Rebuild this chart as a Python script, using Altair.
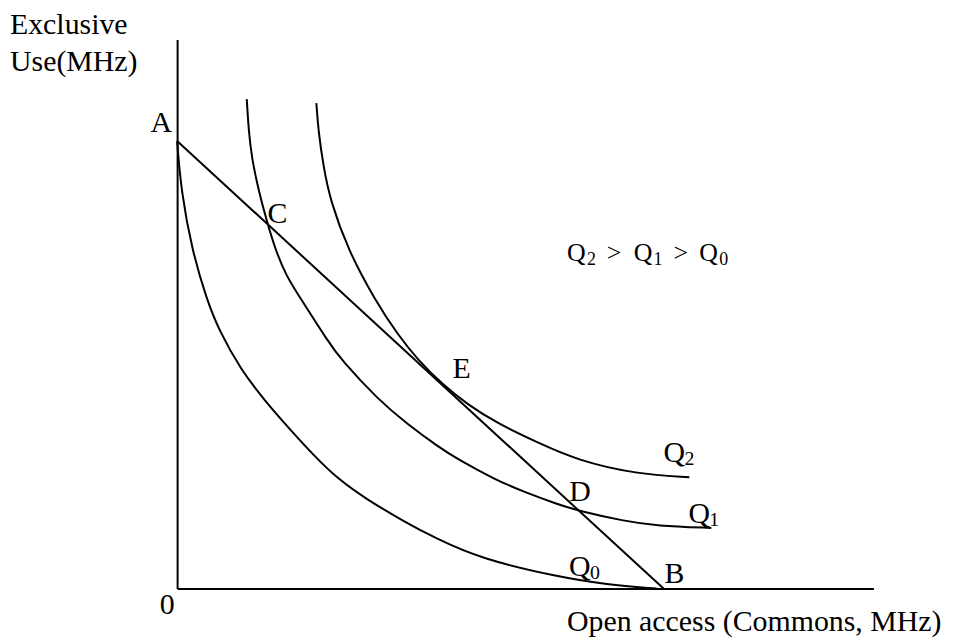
import altair as alt
import pandas as pd

# Isoquant curves (x = Open access MHz units, y = Exclusive use units)
q0_x = [0, 4, 15, 30, 42, 64, 89, 110, 139, 162, 190, 229, 259, 305, 382, 432, 482]
q0_y = [450, 400, 340, 290, 260, 220, 188, 164, 132, 110, 90, 67, 51, 30, 12, 4, 0]

q1_x = [70, 72, 75, 82, 90, 99, 110, 122, 152, 165, 202, 232, 262, 282, 319, 349, 382, 404, 449, 482, 537]
q1_y = [492, 460, 433, 400, 370, 340, 314, 295, 248, 230, 190, 165, 143, 130, 110, 97, 85, 78, 68, 63, 61]

q2_x = [140, 142, 147, 154, 172, 199, 222, 242, 267, 292, 322, 362, 402, 462, 515]
q2_y = [488, 460, 425, 390, 340, 290, 255, 230, 205, 185, 166, 147, 129, 115, 112]

# Budget line A -> B
ab_x = [0, 489]
ab_y = [450, 0]

X_MAX, Y_MAX = 700, 552

rows = []
for name, xs_, ys_ in [("Q0", q0_x, q0_y), ("Q1", q1_x, q1_y), ("Q2", q2_x, q2_y)]:
    for i, (a, b) in enumerate(zip(xs_, ys_)):
        rows.append({"curve": name, "order": i, "x": a, "y": b})
curves = pd.DataFrame(rows)
line_ab = pd.DataFrame({"x": ab_x, "y": ab_y, "order": [0, 1]})

FONT = "Liberation Serif"

# Annotation texts and anchors (data units, alphabetic baseline)
center_labels = ["A", "C", "E", "D", "B", "0"]
center_x = [-16, 101, 286, 405, 500, -10]
center_y = [459, 368, 212, 88, 6, -26]

left_big = ["Exclusive", "Use(MHz)", "Open access (Commons, MHz)", "Q", "Q", "Q"]
left_big_x = [-168, -168, 392, 394, 514, 489]
left_big_y = [558, 520, -43, 13, 66, 127]

left_sub = ["0", "1", "2"]
left_sub_x = [415, 535, 510]
left_sub_y = [10, 63, 124]

rel_big = ["Q", ">", "Q", ">", "Q"]
rel_big_x = [392, 432, 459, 499, 525]
rel_big_y = [329, 329, 329, 329, 329]

rel_sub = ["2", "1", "0"]
rel_sub_x = [412, 479, 545]
rel_sub_y = [325, 325, 325]

xs = alt.Scale(domain=[0, X_MAX], nice=False, zero=False)
ys = alt.Scale(domain=[0, Y_MAX], nice=False, zero=False)
ax = alt.Axis(domain=True, labels=False, ticks=False, grid=False, title=None,
              domainColor="black", domainWidth=2)

curve_layer = alt.Chart(curves).mark_line(
    color="black", strokeWidth=2, interpolate="basis", clip=False
).encode(
    x=alt.X("x:Q", scale=xs, axis=ax),
    y=alt.Y("y:Q", scale=ys, axis=ax),
    detail="curve:N",
    order="order:Q",
)

ab_layer = alt.Chart(line_ab).mark_line(color="black", strokeWidth=2).encode(
    x=alt.X("x:Q", scale=xs), y=alt.Y("y:Q", scale=ys), order="order:Q"
)

def text_layer(labels, tx, ty, size, align):
    df = pd.DataFrame({"t": labels, "x": tx, "y": ty})
    return alt.Chart(df).mark_text(
        font=FONT, fontSize=size, align=align, baseline="alphabetic", color="black", clip=False
    ).encode(x=alt.X("x:Q", scale=xs), y=alt.Y("y:Q", scale=ys), text="t:N")

chart = alt.layer(
    curve_layer,
    ab_layer,
    text_layer(center_labels, center_x, center_y, 30, "center"),
    text_layer(left_big, left_big_x, left_big_y, 30, "left"),
    text_layer(left_sub, left_sub_x, left_sub_y, 20, "left"),
    text_layer(rel_big, rel_big_x, rel_big_y, 26, "left"),
    text_layer(rel_sub, rel_sub_x, rel_sub_y, 18, "left"),
).properties(
    width=X_MAX, height=Y_MAX,
    background="white",
    autosize=alt.AutoSizeParams(type="none"),
    padding={"left": 170, "top": 30, "right": 82, "bottom": 50},
).configure_view(stroke=None)

chart.save("out.html", embed_options={"renderer": "svg", "actions": False})
